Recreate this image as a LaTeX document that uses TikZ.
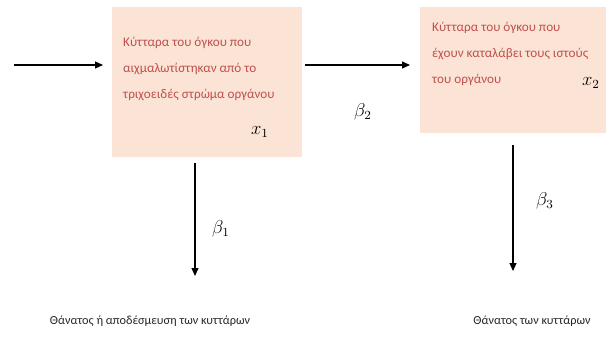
\documentclass[tikz,border=0pt]{standalone}
\usepackage{fontspec}
\setmainfont{Carlito}
\usetikzlibrary{arrows.meta,positioning}
\definecolor{peach}{RGB}{251,228,213}
\definecolor{cellred}{RGB}{192,80,77}

\begin{document}
\begin{tikzpicture}[x=1pt,y=-1pt]
\tikzset{
  stage/.style={fill=peach,draw=none,inner sep=0pt,anchor=north west},
  stagetext/.style={text=cellred,inner sep=0pt,anchor=north west,align=left,
    font=\fontsize{13.2}{26}\selectfont},
  flow/.style={-{Triangle[length=8pt,width=7pt]},line width=1.1pt},
  rate/.style={font=\fontsize{12}{14}\selectfont,scale=1.55},
  outcome/.style={font=\fontsize{12.3}{15}\selectfont,text=black!85}
}
\useasboundingbox (0,0) rectangle (606,343);
% the two compartments
\node[stage,minimum width=190pt,minimum height=150pt] (cellsA) at (112,7) {};
\node[stage,minimum width=186pt,minimum height=126pt] (cellsB) at (420,7) {};
\node[stagetext] (textA) at (123,37) {Κύτταρα του όγκου που\\αιχμαλωτίστηκαν από το\\τριχοειδές στρώμα οργάνου};
\node[stagetext] (textB) at (432,22) {Κύτταρα του όγκου που\\έχουν καταλάβει τους ιστούς\\του οργάνου};
\node[rate] (xA) at (260,132) {$x_1$};
\node[rate] (xB) at (591,83) {$x_2$};
% flows
\coordinate (start) at (14,65);
\coordinate (endA) at (195,276);
\coordinate (endB) at (513,271);
\draw[flow,shorten >=9pt] (start) -- (start -| cellsA.west);
\draw[flow,shorten <=3pt,shorten >=10pt] (cellsA.east |- start) -- (cellsB.west |- start);
\draw[flow,shorten <=6pt] (cellsA.south -| endA) -- (endA);
\draw[flow,shorten <=12pt] (cellsB.south -| endB) -- (endB);
\node[rate] (bA) at (221,229) {$\beta_1$};
\node[rate] (bB) at (363,112) {$\beta_2$};
\node[rate] (bC) at (545,201) {$\beta_3$};
% outcomes
\node[outcome] (deathA) at (150,321) {Θάνατος ή αποδέσμευση των κυττάρων};
\node[outcome] (deathB) at (532,321) {Θάνατος των κυττάρων};
\end{tikzpicture}
\end{document}
